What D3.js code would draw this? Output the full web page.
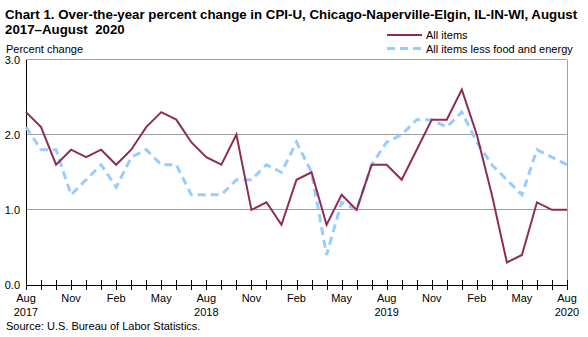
<!DOCTYPE html>
<html><head><meta charset="utf-8">
<script src="https://cdn.jsdelivr.net/npm/d3@7"></script>
<style>body{margin:0;background:#fff}svg{display:block}text{font-family:"Liberation Sans",Arial,sans-serif}</style>
</head><body><svg id="c" width="588" height="337"></svg>
<script>
const months = ["Aug 2017","Sep 2017","Oct 2017","Nov 2017","Dec 2017","Jan 2018","Feb 2018","Mar 2018","Apr 2018","May 2018","Jun 2018","Jul 2018","Aug 2018","Sep 2018","Oct 2018","Nov 2018","Dec 2018","Jan 2019","Feb 2019","Mar 2019","Apr 2019","May 2019","Jun 2019","Jul 2019","Aug 2019","Sep 2019","Oct 2019","Nov 2019","Dec 2019","Jan 2020","Feb 2020","Mar 2020","Apr 2020","May 2020","Jun 2020","Jul 2020","Aug 2020"];
const allItems = [2.3,2.1,1.6,1.8,1.7,1.8,1.6,1.8,2.1,2.3,2.2,1.9,1.7,1.6,2.0,1.0,1.1,0.8,1.4,1.5,0.8,1.2,1.0,1.6,1.6,1.4,1.8,2.2,2.2,2.6,2.0,1.2,0.3,0.4,1.1,1.0,1.0];
const lessFoodEnergy = [2.1,1.8,1.8,1.2,1.4,1.6,1.3,1.7,1.8,1.6,1.6,1.2,1.2,1.2,1.4,1.4,1.6,1.5,1.9,1.5,0.4,1.1,1.0,1.6,1.9,2.0,2.2,2.2,2.1,2.3,1.9,1.6,1.4,1.2,1.8,1.7,1.6];
const yTicks = [0.0,1.0,2.0,3.0];
const seriesNames = ["All items","All items less food and energy"];

const svg = d3.select("#c");
const L=26, R=567, T=59.5, B=285;
const x = d3.scaleLinear().domain([0, months.length-1]).range([L,R]);
const y = d3.scaleLinear().domain([0,3]).range([B,T]);

// title
const title = svg.append("text").attr("x",6).attr("y",19).attr("font-weight","bold").attr("font-size",13.3).attr("fill","#000");
title.append("tspan").attr("x",5).attr("y",19).text("Chart 1. Over-the-year percent change in CPI-U, Chicago-Naperville-Elgin, IL-IN-WI, August");
title.append("tspan").attr("x",5).attr("y",34).attr("xml:space","preserve").style("white-space","pre").text("2017\u2013August  2020");

svg.append("text").attr("x",6).attr("y",53).attr("font-size",11).text("Percent change");

// gridlines
svg.append("g").selectAll("line").data(yTicks.filter(d=>d>0)).join("line")
  .attr("x1",L).attr("x2",R).attr("y1",d=>y(d)).attr("y2",d=>y(d))
  .attr("stroke","#a0a0a0").attr("stroke-width",1).attr("shape-rendering","crispEdges");
svg.append("line").attr("x1",R).attr("x2",R).attr("y1",T).attr("y2",B).attr("stroke","#a0a0a0").attr("shape-rendering","crispEdges");

// y axis
const yAxis = d3.axisLeft(y).tickValues(yTicks).tickSize(0).tickPadding(6).tickFormat(d3.format(".1f"));
const yg = svg.append("g").attr("transform",`translate(${L},0)`).call(yAxis);
yg.select(".domain").attr("stroke","#000").attr("shape-rendering","crispEdges");
yg.selectAll("text").attr("font-size",11).attr("fill","#000").attr("font-family","Liberation Sans, Arial, sans-serif");

// x axis
const xAxis = d3.axisBottom(x).tickValues(d3.range(months.length)).tickSizeInner(5).tickSizeOuter(0).tickFormat("");
const xg = svg.append("g").attr("transform",`translate(0,${B})`).call(xAxis);
xg.select(".domain").attr("stroke","#000").attr("shape-rendering","crispEdges");
xg.selectAll(".tick line").attr("y1",-5).attr("y2",5).attr("stroke","#000").attr("shape-rendering","crispEdges");
const lab = svg.append("g").selectAll("text").data(months.map((m,i)=>({m,i})).filter(d=>d.i%3===0)).join("text")
  .attr("x",d=>x(d.i)).attr("text-anchor","middle").attr("font-size",11);
lab.append("tspan").attr("x",d=>x(d.i)).attr("y",302).text(d=>d.m.split(" ")[0]);
lab.filter(d=>d.m.startsWith("Aug")).append("tspan").attr("x",d=>x(d.i)).attr("y",316).text(d=>d.m.split(" ")[1]);

// lines
const line = d3.line().x((d,i)=>x(i)).y(d=>y(d));
svg.append("path").datum(lessFoodEnergy).attr("d",line).attr("fill","none")
  .attr("stroke","#99ccff").attr("stroke-width",3).attr("stroke-dasharray","8,5");
svg.append("path").datum(allItems).attr("d",line).attr("fill","none")
  .attr("stroke","#8e2c55").attr("stroke-width",2);

// legend
const lg = svg.append("g");
lg.append("line").attr("x1",387).attr("x2",422).attr("y1",35).attr("y2",35).attr("stroke","#8e2c55").attr("stroke-width",2);
lg.append("line").attr("x1",387).attr("x2",422).attr("y1",48.5).attr("y2",48.5).attr("stroke","#99ccff").attr("stroke-width",3).attr("stroke-dasharray","8,5");
lg.append("text").attr("x",426).attr("y",39).attr("font-size",11).text(seriesNames[0]);
lg.append("text").attr("x",426).attr("y",52.5).attr("font-size",11).text(seriesNames[1]);

svg.append("text").attr("x",6).attr("y",330).attr("font-size",11).text("Source: U.S. Bureau of Labor Statistics.");
</script></body></html>
